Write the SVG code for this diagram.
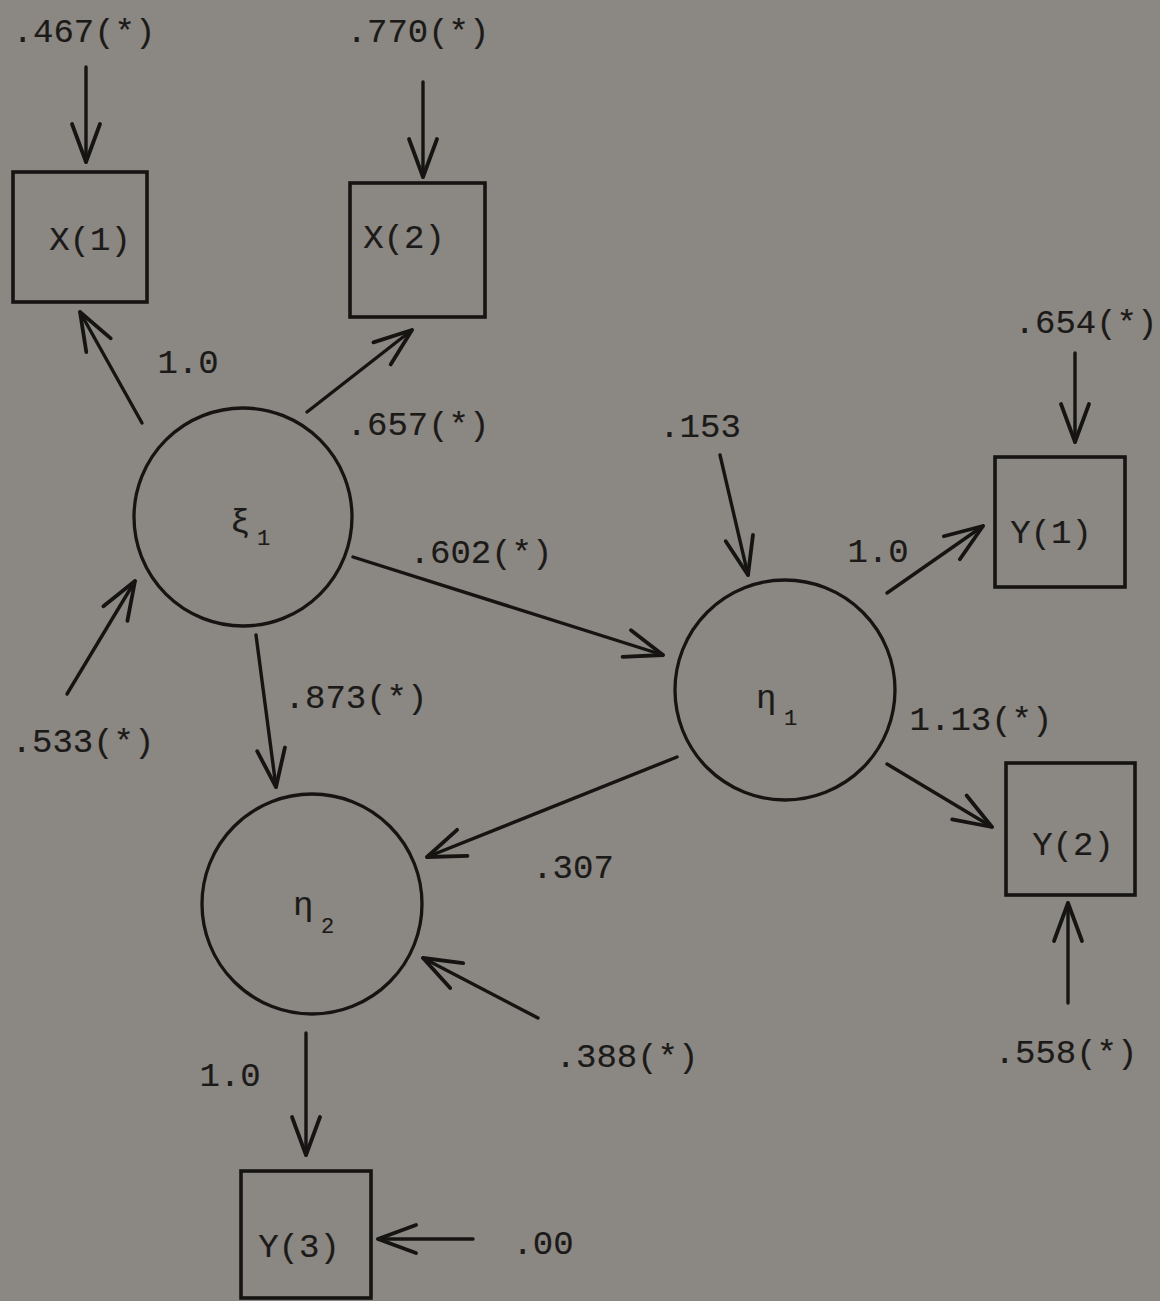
<svg xmlns="http://www.w3.org/2000/svg" width="1160" height="1301" viewBox="0 0 1160 1301">
<style>
.bg{fill:#8b8883}
.box{fill:none;stroke:#161412;stroke-width:3.6}
.lat{fill:none;stroke:#161412;stroke-width:3.3}
.c{fill:none;stroke:#161412;stroke-width:3.4;stroke-linecap:round;marker-end:url(#ah)}
.t{font-family:"Liberation Mono","DejaVu Sans Mono",monospace;font-size:34px;fill:#1c1a18;stroke:#1c1a18;stroke-width:0.2;text-anchor:middle}
.g{font-family:"Liberation Mono","DejaVu Sans Mono",monospace;font-size:34px;fill:#1c1a18;stroke:#1c1a18;stroke-width:0.2}
.s{font-family:"Liberation Mono","DejaVu Sans Mono",monospace;font-size:22px;fill:#1c1a18;stroke:#1c1a18;stroke-width:0.2}
</style>
<defs>
<marker id="ah" markerUnits="userSpaceOnUse" viewBox="-45 -20 50 40" refX="0" refY="0" markerWidth="50" markerHeight="40" orient="auto" overflow="visible">
<path d="M-38,-14 L0,0 L-38,14" fill="none" stroke="#161412" stroke-width="3.8" stroke-linecap="round" stroke-linejoin="round"/>
</marker>
</defs>
<rect class="bg" x="0" y="0" width="1160" height="1301"/>

<g id="connectors">
<line class="c" x1="86" y1="67" x2="86" y2="162"/>
<line class="c" x1="423" y1="82" x2="423" y2="177"/>
<line class="c" x1="142" y1="423" x2="80" y2="312"/>
<line class="c" x1="307" y1="412" x2="412" y2="330"/>
<line class="c" x1="67" y1="694" x2="135" y2="581"/>
<line class="c" x1="353" y1="557" x2="663" y2="655"/>
<line class="c" x1="256" y1="635" x2="276" y2="787"/>
<line class="c" x1="720" y1="455" x2="748" y2="575"/>
<line class="c" x1="1075" y1="353" x2="1075" y2="442"/>
<line class="c" x1="887" y1="593" x2="983" y2="526"/>
<line class="c" x1="887" y1="764" x2="992" y2="827"/>
<line class="c" x1="1068" y1="1003" x2="1068" y2="903"/>
<line class="c" x1="677" y1="757" x2="427" y2="857"/>
<line class="c" x1="538" y1="1018" x2="423" y2="958"/>
<line class="c" x1="306" y1="1033" x2="306" y2="1155"/>
<line class="c" x1="473" y1="1239" x2="378" y2="1239"/>
</g>

<g id="labels">
<text class="t" x="84" y="42">.467(*)</text>
<text class="t" x="418" y="42">.770(*)</text>
<text class="t" x="188" y="373">1.0</text>
<text class="t" x="418" y="435">.657(*)</text>
<text class="t" x="481" y="563">.602(*)</text>
<text class="t" x="356" y="708">.873(*)</text>
<text class="t" x="83" y="752">.533(*)</text>
<text class="t" x="700" y="437">.153</text>
<text class="t" x="1086" y="333">.654(*)</text>
<text class="t" x="878" y="562">1.0</text>
<text class="t" x="981" y="730">1.13(*)</text>
<text class="t" x="1066" y="1063">.558(*)</text>
<text class="t" x="573" y="878">.307</text>
<text class="t" x="627" y="1067">.388(*)</text>
<text class="t" x="230" y="1086">1.0</text>
<text class="t" x="543" y="1254">.00</text>
</g>

<g id="X1">
<rect class="box" x="13" y="172" width="134" height="130"/>
<text class="t" x="90" y="250">X(1)</text>
</g>
<g id="X2">
<rect class="box" x="350" y="183" width="135" height="134"/>
<text class="t" x="404" y="248">X(2)</text>
</g>
<g id="Y1">
<rect class="box" x="995" y="457" width="130" height="130"/>
<text class="t" x="1051" y="543">Y(1)</text>
</g>
<g id="Y2">
<rect class="box" x="1006" y="763" width="129" height="132"/>
<text class="t" x="1073" y="855">Y(2)</text>
</g>
<g id="Y3">
<rect class="box" x="241" y="1171" width="130" height="127"/>
<text class="t" x="299" y="1257">Y(3)</text>
</g>

<g id="xi1">
<circle class="lat" cx="243" cy="517" r="109"/>
<text class="g" x="230" y="532">ξ</text>
<text class="s" x="257" y="545">1</text>
</g>
<g id="eta1">
<circle class="lat" cx="785" cy="690" r="110"/>
<text class="g" x="756" y="708">η</text>
<text class="s" x="784" y="725">1</text>
</g>
<g id="eta2">
<circle class="lat" cx="312" cy="904" r="110"/>
<text class="g" x="293" y="915">η</text>
<text class="s" x="321" y="933">2</text>
</g>
</svg>
